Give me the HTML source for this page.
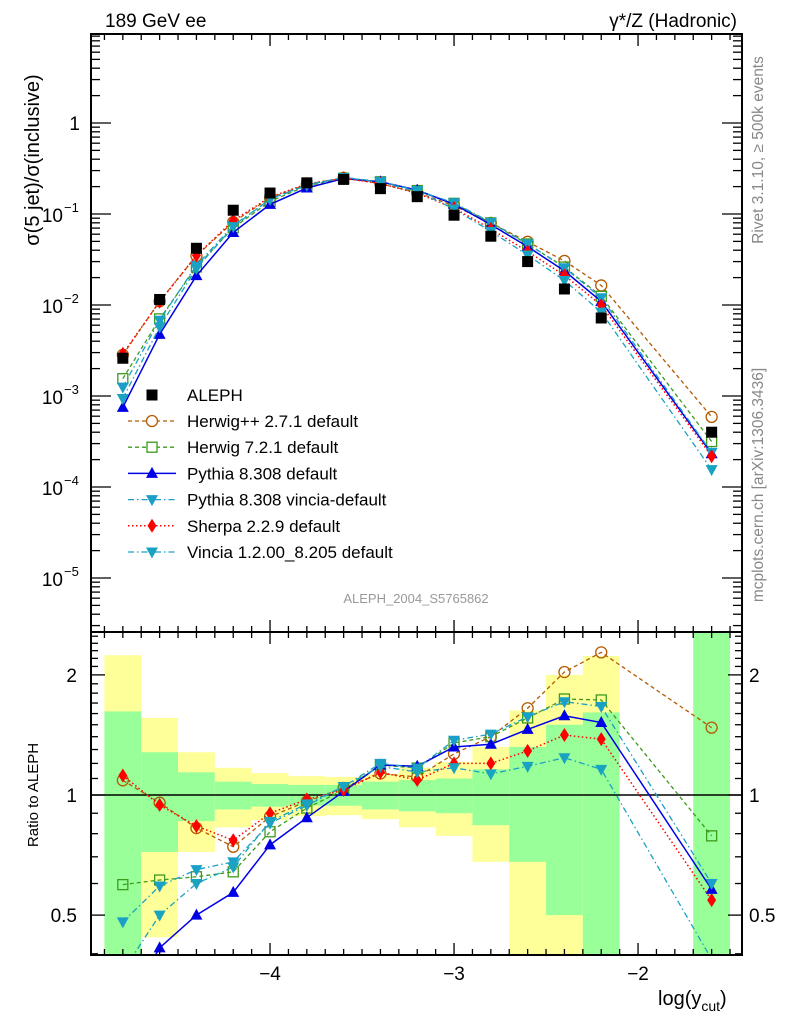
<!DOCTYPE html>
<html><head><meta charset="utf-8"><style>
html,body{margin:0;padding:0;background:#fff;width:786px;height:1024px;overflow:hidden;}
svg{display:block;font-family:"Liberation Sans",sans-serif;}
</style></head><body>
<svg id="chart" width="786" height="1024" viewBox="0 0 786 1024" xmlns="http://www.w3.org/2000/svg"></svg>
<script>
const xVals=[-4.8,-4.6,-4.4,-4.2,-4.0,-3.8,-3.6,-3.4,-3.2,-3.0,-2.8,-2.6,-2.4,-2.2,-1.6];
const binLo=[-4.9,-4.7,-4.5,-4.3,-4.1,-3.9,-3.7,-3.5,-3.3,-3.1,-2.9,-2.7,-2.5,-2.3,-1.7];
const binHi=[-4.7,-4.5,-4.3,-4.1,-3.9,-3.7,-3.5,-3.3,-3.1,-2.9,-2.7,-2.5,-2.3,-2.1,-1.5];
const aleph=[2.6e-3,1.15e-2,0.042,0.11,0.17,0.22,0.24,0.19,0.155,0.097,0.057,0.030,0.015,0.0072,4.0e-4];
const alephStatRel=[0.62,0.28,0.14,0.08,0.065,0.06,0.06,0.08,0.09,0.10,0.16,0.32,0.50,0.61,1.8];
const alephTotRel=[1.24,0.56,0.28,0.17,0.135,0.115,0.11,0.13,0.17,0.21,0.32,0.63,1.0,1.23,1.8];
const herwigpp=[2.83e-3,0.0110,0.0347,0.0816,0.150,0.212,0.250,0.215,0.172,0.123,0.0798,0.0495,0.0305,0.0164,5.9e-4];
const herwig7=[1.55e-3,7.04e-3,0.0262,0.0706,0.1375,0.204,0.247,0.226,0.181,0.131,0.0798,0.0468,0.0261,0.01246,3.16e-4];
const pythia=[7.5e-4,4.76e-3,0.021,0.0627,0.1275,0.193,0.245,0.226,0.183,0.128,0.0764,0.0438,0.0237,0.01094,2.32e-4];
const pythiaVincia=[1.25e-3,6.8e-3,0.0273,0.0748,0.1445,0.207,0.252,0.228,0.181,0.133,0.081,0.0471,0.0257,0.0120,2.4e-4];
const sherpa=[2.91e-3,0.01086,0.0351,0.0847,0.153,0.2145,0.247,0.2166,0.169,0.1164,0.0684,0.0387,0.0212,0.00994,2.18e-4];
const vincia=[9.4e-4,5.75e-3,0.0252,0.0726,0.146,0.209,0.252,0.224,0.177,0.1135,0.0644,0.0354,0.0186,0.00835,1.55e-4];
const xTickLabels=["−4","−3","−2"];
const xTickVals=[-4,-3,-2];
const mainTickExp=[0,-1,-2,-3,-4,-5];
const ratioTickVals=[2,1,0.5];
const ratioTickLabels=["2","1","0.5"];

const svg=document.getElementById('chart');
const NS='http://www.w3.org/2000/svg';
function mk(tag,attrs,parent){const e=document.createElementNS(NS,tag);for(const k in attrs)e.setAttribute(k,attrs[k]);(parent||svg).appendChild(e);return e;}
const L=91,R=742,MT=34,MB=632,RT=632,RB=955;
const XMIN=-4.973,XMAX=-1.435;
function X(v){return L+(v-XMIN)/(XMAX-XMIN)*(R-L);}
function YM(v){return 123-91*Math.log10(v);}
function YR(v){return 795-399*Math.log10(v);}

const defs=mk('defs',{});
const c1=mk('clipPath',{id:'cm'},defs);mk('rect',{x:L,y:MT,width:R-L,height:MB-MT},c1);
const c2=mk('clipPath',{id:'cr'},defs);mk('rect',{x:L,y:RT,width:R-L,height:RB-RT},c2);

const bands=mk('g',{'clip-path':'url(#cr)'});


for(let i=0;i<xVals.length;i++){
  const t=mk('rect',{x:X(binLo[i]),width:X(binHi[i])-X(binLo[i]),y:YR(1+alephTotRel[i]),height:YR(Math.max(1-alephTotRel[i],0.01))-YR(1+alephTotRel[i]),fill:'#ffff99'},bands);
  
  
  const s=mk('rect',{x:X(binLo[i]),width:X(binHi[i])-X(binLo[i]),y:YR(1+alephStatRel[i]),height:YR(Math.max(1-alephStatRel[i],0.01))-YR(1+alephStatRel[i]),fill:'#99ff99'},bands);
  
  
}
mk('line',{x1:L,x2:R,y1:YR(1),y2:YR(1),stroke:'#000','stroke-width':1.5});

function marker(g,type,cx,cy,color){
  if(type==='square')return mk('rect',{x:cx-5.5,y:cy-5.5,width:11,height:11,fill:'#000'},g);
  if(type==='circle')return mk('circle',{cx,cy,r:5.5,fill:'none',stroke:color,'stroke-width':1.3},g);
  if(type==='osquare')return mk('rect',{x:cx-5,y:cy-5,width:10,height:10,fill:'none',stroke:color,'stroke-width':1.3},g);
  if(type==='up')return mk('polygon',{points:`${cx},${cy-6.5} ${cx-6},${cy+4.5} ${cx+6},${cy+4.5}`,fill:color},g);
  if(type==='down')return mk('polygon',{points:`${cx},${cy+6.5} ${cx-6},${cy-4.5} ${cx+6},${cy-4.5}`,fill:color},g);
  if(type==='diamond')return mk('polygon',{points:`${cx},${cy-7} ${cx-4.5},${cy} ${cx},${cy+7} ${cx+4.5},${cy}`,fill:color},g);
}
const series=[
 {name:'herwigpp',vals:herwigpp,color:'#b35a00',dash:'4,3',m:'circle',w:1.3},
 {name:'herwig7',vals:herwig7,color:'#3d9a1c',dash:'4,3',m:'osquare',w:1.3},
 {name:'pythia',vals:pythia,color:'#0000e6',dash:'',m:'up',w:1.5},
 {name:'pythia-vincia',vals:pythiaVincia,color:'#1a9fc8',dash:'6,3,1.5,3',m:'down',w:1.3},
 {name:'sherpa',vals:sherpa,color:'#ff0000',dash:'1.5,2.5',m:'diamond',w:1.5},
 {name:'vincia',vals:vincia,color:'#1aa3c0',dash:'6,3,1.5,3',m:'down',w:1.3}
];
const gm=mk('g',{'clip-path':'url(#cm)'});
for(const s of series){
  const g=mk('g',{},gm);
  
  
  mk('polyline',{points:xVals.map((x,i)=>X(x)+','+YM(s.vals[i])).join(' '),fill:'none',stroke:s.color,'stroke-width':s.w,'stroke-dasharray':s.dash},g);
  xVals.forEach((x,i)=>{const p=marker(g,s.m,X(x),YM(s.vals[i]),s.color);});
}
const ga=mk('g',{'clip-path':'url(#cm)'});


xVals.forEach((x,i)=>{const p=marker(ga,'square',X(x),YM(aleph[i]));});
const gr=mk('g',{'clip-path':'url(#cr)'});
for(const s of series){
  const g=mk('g',{},gr);
  
  
  mk('polyline',{points:xVals.map((x,i)=>X(x)+','+YR(s.vals[i]/aleph[i])).join(' '),fill:'none',stroke:s.color,'stroke-width':s.w,'stroke-dasharray':s.dash},g);
  xVals.forEach((x,i)=>{const p=marker(g,s.m,X(x),YR(s.vals[i]/aleph[i]),s.color);});
}
mk('rect',{x:L,y:MT,width:R-L,height:MB-MT,fill:'none',stroke:'#000','stroke-width':2});
mk('rect',{x:L,y:RT,width:R-L,height:RB-RT,fill:'none',stroke:'#000','stroke-width':2});
const tk=mk('g',{stroke:'#000','stroke-width':1.3});
for(let k=-49;k<=-15;k++){
  const v=k/10,x=X(v),maj=(k%10===0),len=maj?12:6;
  for(const [top,bot] of [[MT,MB],[RT,RB]]){
    mk('line',{x1:x,x2:x,y1:bot,y2:bot-len},tk);
    mk('line',{x1:x,x2:x,y1:top,y2:top+len},tk);
  }
}
for(let e=-6;e<=0;e++){
  for(let m=1;m<=9;m++){
    const v=m*Math.pow(10,e),y=YM(v);
    if(y<MT||y>MB)continue;
    const len=m===1?20:9;
    mk('line',{x1:L,x2:L+len,y1:y,y2:y},tk);
    mk('line',{x1:R,x2:R-len,y1:y,y2:y},tk);
  }
}
for(const v of [0.4,0.5,0.6,0.7,0.8,0.9,1,2]){
  const y=YR(v),len=(v===0.5||v===1||v===2)?14:7;
  mk('line',{x1:L,x2:L+len,y1:y,y2:y},tk);
  mk('line',{x1:R,x2:R-len,y1:y,y2:y},tk);
}
for(let v=1.1;v<2.6;v+=0.1){if(Math.abs(v-2)<0.01)continue;const y=YR(v);if(y<RT)continue;
  mk('line',{x1:L,x2:L+7,y1:y,y2:y},tk);mk('line',{x1:R,x2:R-7,y1:y,y2:y},tk);}

function txt(s,attrs,name){const t=mk('text',attrs);t.textContent=s;return t;}
mainTickExp.forEach(e=>{
  const y=YM(Math.pow(10,e));
  if(e===0){txt('1',{x:80,y:y+7,'font-size':19,'text-anchor':'end'},'y-tick-label');}
  else{txt('10',{x:63,y:y+8,'font-size':19,'text-anchor':'end'},'y-tick-label');
    txt('−'+(-e),{x:64,y:y-2,'font-size':13},'y-tick-exponent');}
});
ratioTickVals.forEach((v,i)=>{
  txt(ratioTickLabels[i],{x:77,y:YR(v)+7,'font-size':19,'text-anchor':'end'},'ratio-tick-label-left');
  txt(ratioTickLabels[i],{x:749,y:YR(v)+7,'font-size':19},'ratio-tick-label-right');
});
xTickVals.forEach((v,i)=>txt(xTickLabels[i],{x:X(v),y:980,'font-size':19,'text-anchor':'middle'},'x-tick-label'));
txt('189 GeV ee',{x:105,y:27,'font-size':19},'plot-title-left');
txt('γ*/Z (Hadronic)',{x:737,y:27,'font-size':19,'text-anchor':'end'},'plot-title-right');
txt('σ(5 jet)/σ(inclusive)',{x:0,y:0,'font-size':20,'text-anchor':'middle',transform:'translate(39,160) rotate(-90)'},'y-axis-title');
txt('Ratio to ALEPH',{x:0,y:0,'font-size':15,'text-anchor':'middle',transform:'translate(38,795) rotate(-90)'},'ratio-axis-title');
txt('Rivet 3.1.10, ≥ 500k events',{x:0,y:0,'font-size':15.5,fill:'#888','text-anchor':'middle',transform:'translate(763,150) rotate(-90)'},'rivet-label');
txt('mcplots.cern.ch [arXiv:1306.3436]',{x:0,y:0,'font-size':15.5,fill:'#888','text-anchor':'middle',transform:'translate(763,485) rotate(-90)'},'mcplots-label');
txt('ALEPH_2004_S5765862',{x:416,y:603,'font-size':13,fill:'#999','text-anchor':'middle'},'analysis-id');
const xt=txt('log(y',{x:658,y:1005,'font-size':20},'x-axis-title');
const sub=mk('tspan',{dy:6,'font-size':14},xt);sub.textContent='cut';
const cl=mk('tspan',{dy:-6},xt);cl.textContent=')';
const legNames=['Herwig++ 2.7.1 default','Herwig 7.2.1 default','Pythia 8.308 default','Pythia 8.308 vincia-default','Sherpa 2.2.9 default','Vincia 1.2.00_8.205 default'];
const lg=mk('g',{});


const e0=mk('g',{},lg);


marker(e0,'square',152,395);
const t0=mk('text',{x:187,y:401,'font-size':17},e0);t0.textContent='ALEPH';
series.forEach((s,i)=>{
  const y=421+i*26.2;
  const g=mk('g',{},lg);
  
  
  mk('line',{x1:128,x2:176,y1:y,y2:y,stroke:s.color,'stroke-width':s.w,'stroke-dasharray':s.dash},g);
  const m=marker(g,s.m,152,y,s.color);
  if(s.m==='circle'||s.m==='osquare')m.setAttribute('fill','#fff');
  const t=mk('text',{x:187,y:y+6,'font-size':17},g);t.textContent=legNames[i];
});
</script>
</body></html>
